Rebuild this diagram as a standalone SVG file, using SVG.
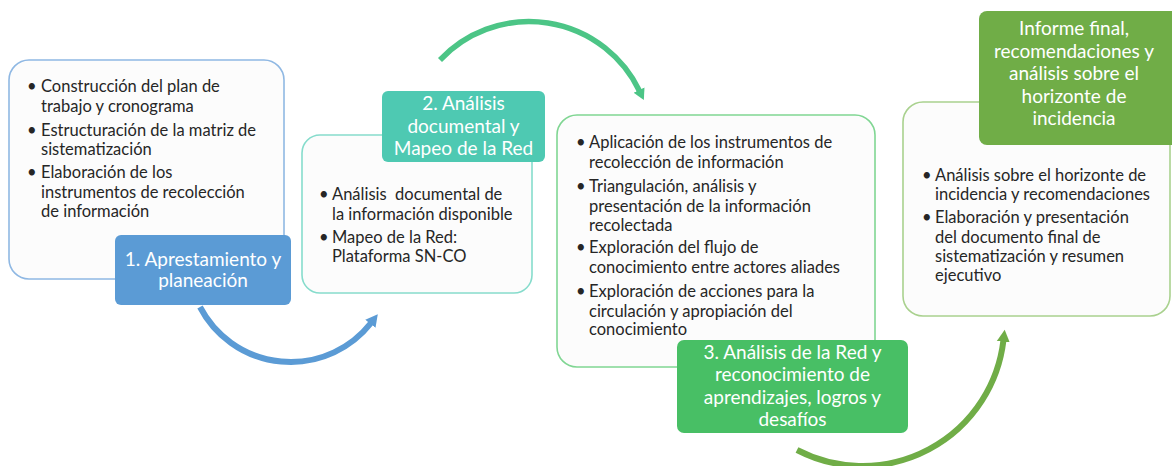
<svg xmlns="http://www.w3.org/2000/svg" width="1172" height="466" viewBox="0 0 1172 466">
<style>
.box{fill:#fcfcfc;stroke-width:1.6}
.lbl{stroke:none}
.bt{font-family:Lato,"Liberation Sans",sans-serif;font-size:16.5px;fill:#262626}
.lt{font-family:Lato,"Liberation Sans",sans-serif;font-size:19px;fill:#ffffff;text-anchor:middle}
.arc{fill:none}
</style>
<defs>
<marker id="hb" markerUnits="userSpaceOnUse" markerWidth="16" markerHeight="16" refX="1" refY="8" orient="auto"><path d="M0,1.5 L12,8 L0,14.5 z" fill="#5b9bd5"/></marker>
<marker id="ht" markerUnits="userSpaceOnUse" markerWidth="16" markerHeight="16" refX="1" refY="8" orient="auto"><path d="M0,2 L11,8 L0,14 z" fill="#4cc586"/></marker>
<marker id="hg" markerUnits="userSpaceOnUse" markerWidth="16" markerHeight="16" refX="1" refY="8" orient="auto"><path d="M0,1.5 L12,8 L0,14.5 z" fill="#70ad47"/></marker>
</defs>
<g id="connectors">
<path class="arc" d="M200,307 A102.2,102.2 0 0,0 371,323" stroke="#5b9bd5" stroke-width="6" marker-end="url(#hb)"/>
<path class="arc" d="M440,60 A122.5,122.5 0 0,1 639.5,91" stroke="#4cc586" stroke-width="5.5" marker-end="url(#ht)"/>
<path class="arc" d="M797,450 A142,142 0 0,0 1003.4,340.7" stroke="#70ad47" stroke-width="6" marker-end="url(#hg)"/>
</g>
<g id="node1">
<rect class="box" x="9" y="60" width="275" height="219" rx="20" stroke="#8fb8e3"/>
<text class="bt"><tspan x="27" y="92">•</tspan><tspan x="41" y="92">Construcción del plan de</tspan><tspan x="41" y="111.5">trabajo y cronograma</tspan><tspan x="27" y="136">•</tspan><tspan x="41" y="136">Estructuración de la matriz de</tspan><tspan x="41" y="155">sistematización</tspan><tspan x="27" y="178">•</tspan><tspan x="41" y="178">Elaboración de los</tspan><tspan x="41" y="198">instrumentos de recolección</tspan><tspan x="41" y="217">de información</tspan></text>
<rect class="lbl" x="115" y="235" width="176" height="70" rx="6" fill="#5b9bd5"/>
<text class="lt"><tspan x="203" y="266">1. Apresta­miento y</tspan><tspan x="203" y="287">planeación</tspan></text>
</g>
<g id="node2">
<rect class="box" x="302" y="135" width="230" height="158" rx="18" stroke="#86dccc"/>
<text class="bt" style="white-space:pre"><tspan x="319" y="200">•</tspan><tspan x="332" y="200">Análisis  documental de</tspan><tspan x="332" y="219.5">la información disponible</tspan><tspan x="319" y="243">•</tspan><tspan x="332" y="243">Mapeo de la Red:</tspan><tspan x="332" y="262">Plataforma SN-CO</tspan></text>
<rect class="lbl" x="382" y="91" width="163" height="71" rx="6" fill="#4ec9b2"/>
<text class="lt"><tspan x="463.5" y="110">2. Análisis</tspan><tspan x="463.5" y="132.5">documental y</tspan><tspan x="463.5" y="155">Mapeo de la Red</tspan></text>
</g>
<g id="node3">
<rect class="box" x="557" y="115" width="318" height="252" rx="20" stroke="#80d693"/>
<text class="bt"><tspan x="576" y="148">•</tspan><tspan x="589" y="148">Aplicación de los instrumentos de</tspan><tspan x="589" y="168">recolección  de información</tspan><tspan x="576" y="192">•</tspan><tspan x="589" y="192">Triangulación, análisis y</tspan><tspan x="589" y="212">presentación de la información</tspan><tspan x="589" y="231">recolectada</tspan><tspan x="576" y="253">•</tspan><tspan x="589" y="253">Exploración del flujo de</tspan><tspan x="589" y="273">conocimiento entre actores aliades</tspan><tspan x="576" y="297">•</tspan><tspan x="589" y="297">Exploración de acciones para la</tspan><tspan x="589" y="317">circulación y apropiación del</tspan><tspan x="589" y="335">conocimiento</tspan></text>
<rect class="lbl" x="677" y="340" width="231" height="93" rx="7" fill="#48bf65"/>
<text class="lt"><tspan x="792.5" y="359">3. Análisis de la Red y</tspan><tspan x="792.5" y="381">reconocimiento de</tspan><tspan x="792.5" y="403.5">aprendizajes, logros y</tspan><tspan x="792.5" y="425.5">desafíos</tspan></text>
</g>
<g id="node4">
<rect class="box" x="903" y="102" width="267" height="214" rx="20" stroke="#a9d18e"/>
<text class="bt"><tspan x="922" y="181">•</tspan><tspan x="935" y="181">Análisis sobre el horizonte de</tspan><tspan x="935" y="200">incidencia y recomendaciones</tspan><tspan x="922" y="223">•</tspan><tspan x="935" y="223">Elaboración y presentación</tspan><tspan x="935" y="243">del documento final de</tspan><tspan x="935" y="262">sistematización y resumen</tspan><tspan x="935" y="281">ejecutivo</tspan></text>
<rect class="lbl" x="979" y="11" width="200" height="134" rx="8" fill="#70ad47"/>
<text class="lt"><tspan x="1074" y="35">Informe final,</tspan><tspan x="1074" y="57.5">recomendaciones y</tspan><tspan x="1074" y="80">análisis sobre el</tspan><tspan x="1074" y="102.5">horizonte de</tspan><tspan x="1074" y="125">incidencia</tspan></text>
</g>
</svg>
